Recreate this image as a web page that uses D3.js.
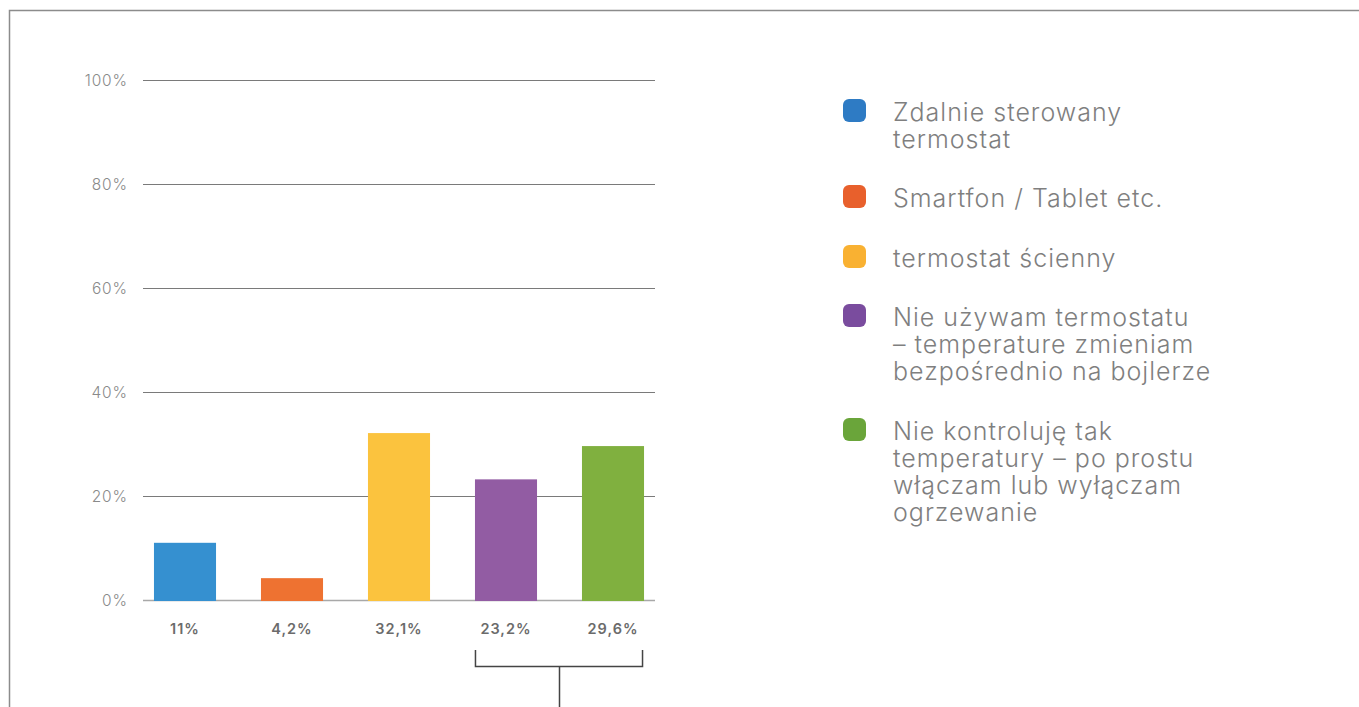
<!DOCTYPE html>
<html>
<head>
<meta charset="utf-8">
<script src="https://cdn.jsdelivr.net/npm/d3@7"></script>
<style>
  html, body { margin: 0; padding: 0; background: #fff; }
  svg { display: block; }
</style>
</head>
<body>
<svg id="chart" width="1359" height="707"></svg>
<script>
// dane wykresu
const categories = [
  ["Zdalnie sterowany", "termostat"],
  ["Smartfon / Tablet etc."],
  ["termostat ścienny"],
  ["Nie używam termostatu", "– temperature zmieniam", "bezpośrednio na bojlerze"],
  ["Nie kontroluję tak", "temperatury – po prostu", "włączam lub wyłączam", "ogrzewanie"]
];
const values = [11, 4.2, 32.1, 23.2, 29.6];
const valueLabels = ["11%", "4,2%", "32,1%", "23,2%", "29,6%"];
const barColors = ["#3590d0", "#ee7231", "#fbc33e", "#925ca3", "#80b03f"];
const legendColors = ["#2e7bc4", "#e8602c", "#f9b132", "#7a4c9e", "#6aa53a"];
const yTicks = [0, 20, 40, 60, 80, 100];

const svg = d3.select("#chart");
const font = "Inter, 'Open Sans', sans-serif";

// ramka
svg.append("path")
  .attr("d", "M9.5,707 L9.5,10.5 L1359,10.5")
  .attr("fill", "none")
  .attr("stroke", "#8c8c8c")
  .attr("stroke-width", 1.5);

const y = d3.scaleLinear().domain([0, 100]).range([600, 80]);
const x = d3.scaleBand()
  .domain(d3.range(values.length))
  .range([131.5, 666.5])
  .paddingInner(0.42)
  .paddingOuter(0.21);

const gridX0 = 143, gridX1 = 655;

// linie siatki
svg.append("g")
  .selectAll("line")
  .data(yTicks)
  .join("line")
  .attr("x1", gridX0)
  .attr("x2", gridX1)
  .attr("y1", d => Math.round(y(d)) + 0.5)
  .attr("y2", d => Math.round(y(d)) + 0.5)
  .attr("stroke", d => d === 0 ? "#a8a8a8" : "#7a7a7a")
  .attr("stroke-width", d => d === 0 ? 1.5 : 1);

// etykiety osi Y
svg.append("g")
  .selectAll("text")
  .data(yTicks)
  .join("text")
  .attr("x", 128)
  .attr("y", d => y(d))
  .attr("dy", "0.36em")
  .attr("text-anchor", "end")
  .attr("font-family", font)
  .attr("font-weight", 300)
  .attr("font-size", 15.5)
  .attr("letter-spacing", 0.9)
  .attr("fill", "#8a8a8a")
  .text(d => d + "%");

// słupki
svg.append("g")
  .selectAll("rect")
  .data(values)
  .join("rect")
  .attr("x", (d, i) => x(i))
  .attr("width", x.bandwidth())
  .attr("y", d => y(d))
  .attr("height", d => y(0) - y(d) + 1)
  .attr("fill", (d, i) => barColors[i]);

// wartości pod słupkami
svg.append("g")
  .selectAll("text")
  .data(valueLabels)
  .join("text")
  .attr("x", (d, i) => x(i) + x.bandwidth() / 2)
  .attr("y", 634)
  .attr("text-anchor", "middle")
  .attr("font-family", font)
  .attr("font-weight", 600)
  .attr("font-size", 14.5)
  .attr("letter-spacing", 1)
  .attr("fill", "#6b6b6b")
  .text(d => d);

// nawias pod dwoma ostatnimi słupkami
const bx0 = x(3), bx1 = x(4) + x.bandwidth() - 2;
const bmid = Math.round((bx0 + bx1) / 2) + 0.5;
svg.append("path")
  .attr("d", `M${bx0 + 0.5},650 V666.5 H${bx1 + 0.5} V650 M${bmid},666.5 V707`)
  .attr("fill", "none")
  .attr("stroke", "#444")
  .attr("stroke-width", 1.5);

// legenda
const legendTops = [99, 185, 245, 304, 418];
const lineH = 27;
const legend = svg.append("g")
  .selectAll("g")
  .data(categories)
  .join("g")
  .attr("transform", (d, i) => `translate(843,${legendTops[i]})`);

legend.append("rect")
  .attr("width", 23)
  .attr("height", 23)
  .attr("rx", 6)
  .attr("fill", (d, i) => legendColors[i]);

legend.append("text")
  .attr("x", 50)
  .attr("y", 22)
  .attr("font-family", font)
  .attr("font-weight", 300)
  .attr("font-size", 25)
  .attr("letter-spacing", 1)
  .attr("fill", "#7f7f7f")
  .selectAll("tspan")
  .data(d => d)
  .join("tspan")
  .attr("x", 50)
  .attr("dy", (d, j) => j === 0 ? 0 : lineH)
  .text(d => d);
</script>
</body>
</html>
